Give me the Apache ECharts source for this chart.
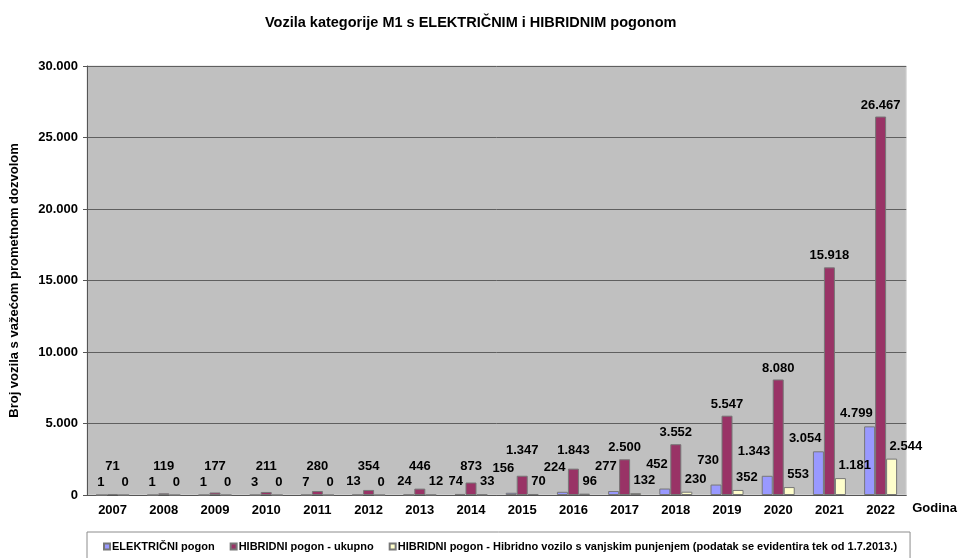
<!DOCTYPE html>
<html>
<head>
<meta charset="utf-8" />
<script src="https://cdn.jsdelivr.net/npm/echarts@6/dist/echarts.min.js"></script>
<style>
  html, body { margin: 0; padding: 0; background: #fff; }
  #chart { width: 960px; height: 558px; }
</style>
</head>
<body>
<div id="chart"></div>
<script>
const years = ['2007', '2008', '2009', '2010', '2011', '2012', '2013', '2014', '2015', '2016', '2017', '2018', '2019', '2020', '2021', '2022']
const electric = [1, 1, 1, 3, 7, 13, 24, 74, 156, 224, 277, 452, 730, 1343, 3054, 4799]
const hybridTotal = [71, 119, 177, 211, 280, 354, 446, 873, 1347, 1843, 2500, 3552, 5547, 8080, 15918, 26467]
const hybridPlugin = [0, 0, 0, 0, 0, 0, 12, 33, 70, 96, 132, 230, 352, 553, 1181, 2544]
const seriesNames = [
  'ELEKTRIČNI pogon',
  'HIBRIDNI pogon - ukupno',
  'HIBRIDNI pogon - Hibridno vozilo s vanjskim punjenjem (podatak se evidentira tek od 1.7.2013.)',
]

const yMax = 30000
const gridTop = 66
const gridBottom = 63
const plotHeight = 558 - gridTop - gridBottom
const pxPerUnit = plotHeight / yMax
const fontFamily = 'Liberation Sans, Arial, sans-serif'

// 12.345 style thousands separator
const fmt = v => String(v).replace(/\B(?=(\d{3})+(?!\d))/g, '.')

// label lift above the bar top, nudged like the original (avoid overlapping)
const blueLift = i => (hybridTotal[i] >= 1000 && hybridTotal[i] < 10000 ? 25 : 13)
const hybridLift = v => {
  const barPx = v * pxPerUnit
  let minH = 0
  if (v < 1000) minH = 29
  else if (v < 3000) minH = 45
  return Math.max(barPx + 12, minH) - barPx
}

const labelBase = {
  show: true,
  position: 'top',
  distance: 6,
  color: '#000',
  fontFamily,
  fontWeight: 'bold',
  fontSize: 13,
  formatter: p => fmt(p.value),
}

const toItems = (arr, liftFn, dx) =>
  arr.map((v, i) => ({
    value: v,
    label: { offset: [dx, -(liftFn(v, i) - 13)] },
  }))

const chart = echarts.init(document.getElementById('chart'))

chart.setOption({
  animation: false,
  backgroundColor: '#fff',
  title: {
    text: 'Vozila kategorije M1 s ELEKTRIČNIM i HIBRIDNIM pogonom',
    left: 260,
    top: 10,
    textStyle: { fontFamily, fontSize: 14.5, fontWeight: 'bold', color: '#000' },
  },
  grid: {
    left: 87,
    right: 53,
    top: gridTop,
    bottom: gridBottom,
    show: true,
    backgroundColor: '#c0c0c0',
    borderColor: '#d9d9d9',
    borderWidth: 1,
  },
  legend: {
    left: 87,
    top: 532,
    padding: [9, 13, 14, 16],
    itemGap: 15,
    itemWidth: 6,
    itemHeight: 6,
    icon: 'rect',
    borderColor: '#8c8c8c',
    borderWidth: 1,
    textStyle: { fontFamily, fontSize: 11, fontWeight: 'bold', color: '#000', padding: [0, 0, 0, -3] },
    data: seriesNames,
  },
  xAxis: {
    type: 'category',
    data: years,
    name: 'Godina',
    nameLocation: 'end',
    nameGap: 6,
    nameTextStyle: { fontFamily, fontSize: 13, fontWeight: 'bold', color: '#000', verticalAlign: 'top', padding: [7, 0, 0, 0] },
    axisLine: { lineStyle: { color: '#555', width: 1 } },
    axisTick: { length: 5, lineStyle: { color: '#555' } },
    axisLabel: { fontFamily, fontSize: 13, fontWeight: 'bold', color: '#000', margin: 9 },
  },
  yAxis: {
    type: 'value',
    min: 0,
    max: yMax,
    interval: 5000,
    name: 'Broj vozila s važećom prometnom dozvolom',
    nameLocation: 'middle',
    nameRotate: 90,
    nameGap: 66,
    nameTextStyle: { fontFamily, fontSize: 13, fontWeight: 'bold', color: '#000' },
    axisLine: { show: true, lineStyle: { color: '#555', width: 1 } },
    axisTick: { show: true, length: 4, lineStyle: { color: '#555' } },
    axisLabel: { fontFamily, fontSize: 13, fontWeight: 'bold', color: '#000', margin: 9, formatter: v => fmt(v) },
    splitLine: { lineStyle: { color: '#5f5f5f', width: 1 } },
  },
  series: [
    {
      name: seriesNames[0],
      type: 'bar',
      barWidth: 11,
      barGap: '0%',
      itemStyle: { color: '#9999ff', borderColor: '#777', borderWidth: 1 },
      label: { ...labelBase, align: 'right' },
      data: toItems(electric, (v, i) => blueLift(i), 3),
    },
    {
      name: seriesNames[1],
      type: 'bar',
      barWidth: 11,
      barGap: '0%',
      itemStyle: { color: '#993366', borderColor: '#777', borderWidth: 1 },
      label: { ...labelBase },
      data: toItems(hybridTotal, v => hybridLift(v), 0),
    },
    {
      name: seriesNames[2],
      type: 'bar',
      barWidth: 11,
      barGap: '0%',
      itemStyle: { color: '#ffffcc', borderColor: '#777', borderWidth: 1 },
      label: { ...labelBase, align: 'left' },
      data: toItems(hybridPlugin, () => 13, -2),
    },
  ],
})
</script>
</body>
</html>
